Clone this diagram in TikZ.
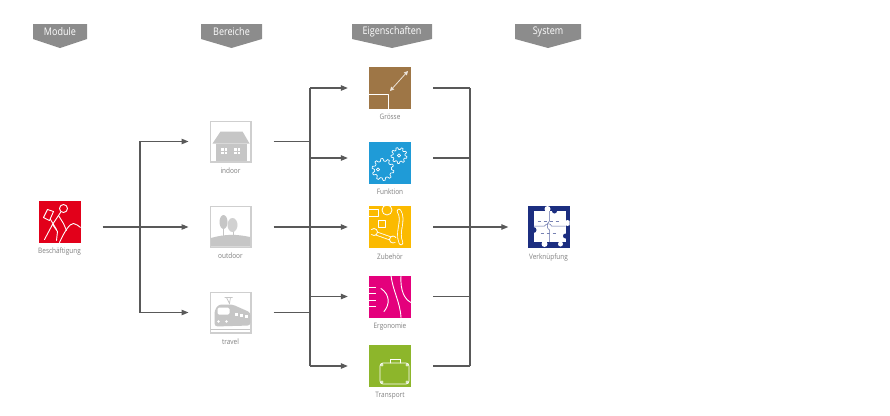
\documentclass[tikz,border=0pt]{standalone}
\usepackage{fontspec}
\setmainfont{Open Sans}[FakeStretch=0.86]
\usetikzlibrary{positioning,arrows.meta}
\definecolor{linegray}{HTML}{595959}
\definecolor{headgray}{HTML}{8C8C8C}
\definecolor{textgray}{HTML}{808080}
\definecolor{icongray}{HTML}{C6C6C6}
\definecolor{bred}{HTML}{E2001A}
\definecolor{bbrown}{HTML}{9E7646}
\definecolor{bblue}{HTML}{1F9BD7}
\definecolor{byellow}{HTML}{FBBA00}
\definecolor{bmagenta}{HTML}{E4007C}
\definecolor{bgreen}{HTML}{8DB62B}
\definecolor{bnavy}{HTML}{1C2E80}

\begin{document}
\begin{tikzpicture}[x=1pt,y=-1pt,node distance=4pt,
        icon node/.style={rectangle,minimum size=42pt,inner sep=0pt},
        grey node/.style={rectangle,fill=white,draw=icongray!85,line width=1.4pt,minimum size=40.6pt,inner sep=0pt},
        label node/.style={text=textgray,font=\fontsize{7.5}{8}\selectfont,inner sep=1pt},
        head node/.style={text=white,font=\fontsize{10.5}{12}\selectfont,inner sep=0pt},
        glyph/.style={draw=white,line width=0.9pt,line cap=round,line join=round},
        link/.style={draw=linegray,line width=1.1pt},
        arrow/.style={link,-{Triangle[length=7pt,width=5.5pt]}}]

    \useasboundingbox (0,0) rectangle (890,415);

    % column heads
    \foreach \x/\w/\t/\n in {60/27/Module/hmod,231.5/30.5/Bereiche/hber,
            392/40/Eigenschaften/heig,548/33/System/hsys}{
        \fill[headgray] (\x-\w,24) -- (\x+\w,24) -- (\x+\w,39) -- (\x,48) -- (\x-\w,39) -- cycle;
        \node[head node] (\n) at (\x,31.5) {\t};
    }

    % icons
    \node[icon node,fill=bred] (besch) at (59.5,221.5) {};
    \node[grey node] (indoor) at (230.5,141.5) {};
    \node[grey node] (outdoor) at (230.5,227) {};
    \node[grey node] (travel) at (230.5,312.5) {};
    \node[icon node,fill=bbrown] (groesse) at (390,88) {};
    \node[icon node,fill=bblue] (funktion) at (390,162.5) {};
    \node[icon node,fill=byellow] (zubehoer) at (390,227) {};
    \node[icon node,fill=bmagenta] (ergonomie) at (390,296.5) {};
    \node[icon node,fill=bgreen] (transport) at (390,366) {};
    \node[icon node,fill=bnavy] (verkn) at (548.5,227) {};

    % labels
    \node[label node,below=of besch] (besch-l) {Beschäftigung};
    \node[label node,below=of indoor] (indoor-l) {indoor};
    \node[label node,below=of outdoor] (outdoor-l) {outdoor};
    \node[label node,below=of travel] (travel-l) {travel};
    \node[label node,below=of groesse] (groesse-l) {Grösse};
    \node[label node,below=of funktion] (funktion-l) {Funktion};
    \node[label node,below=of zubehoer] (zubehoer-l) {Zubehör};
    \node[label node,below=of ergonomie] (ergonomie-l) {Ergonomie};
    \node[label node,below=of transport] (transport-l) {Transport};
    \node[label node,below=of verkn] (verkn-l) {Verknüpfung};

    % Beschaeftigung
    \begin{scope}[shift={(besch.center)}]
        \clip (-21,-21) rectangle (21,21);
        \draw[glyph] (4,-13) circle (4);
        \draw[glyph] (1,-9) -- (-7,3) -- (-15,18);
        \draw[glyph] (-7,3) -- (-2,10) -- (-3,19);
        \draw[glyph] (-1,-6) -- (4,2) -- (7,9);
        \draw[glyph] (-12,-12) -- (-6,-10) -- (-10,-1) -- (-16,-4) -- cycle;
        \draw[glyph] (-9,-2) -- (-3,8);
        \draw[glyph] (0,21) .. controls (5,10) and (10,2) .. (14,2) .. controls (17,2) and (19,5) .. (21,6);
    \end{scope}

    % indoor
    \begin{scope}[shift={(indoor.center)},icongray]
        \fill (-18,2) -- (-10,-10) -- (12,-10) -- (19,2) -- cycle;
        \fill (-15,2) rectangle (16,19.6);
        \foreach \wx in {-9.5,3.5}{
            \fill[white] (\wx,6.5) rectangle (\wx+6,12.5);
            \draw[icongray,line width=0.8pt] (\wx+3,6.5) -- (\wx+3,12.5) (\wx,9.5) -- (\wx+6,9.5);
        }
    \end{scope}

    % outdoor
    \begin{scope}[shift={(outdoor.center)},icongray]
        \fill (-19.6,11) .. controls (-5,7) and (5,7) .. (19.6,10) -- (19.6,19.6) -- (-19.6,19.6) -- cycle;
        \draw[line width=0.8pt] (-7,0) -- (-7,10) (3,2) -- (3,10);
        \fill (-7,-5) ellipse (4 and 7);
        \fill[icongray!80] (2,-2) ellipse (5 and 7);
    \end{scope}

    % travel
    \begin{scope}[shift={(travel.center)},icongray]
        \draw[line width=0.7pt] (-6,-15) -- (2,-15) (-4,-15) -- (-1,-9) -- (0,-15);
        \fill[rounded corners=3pt] (-16,14) -- (-16,-2) -- (-12,-8) -- (2,-8) -- (20,0) -- (20,13) -- cycle;
        \fill[white,rounded corners=1.5pt] (-13,-5) rectangle (-1,2);
        \foreach \sx in {4,9,14}
            \fill[white] (\sx,-1+\sx/4) rectangle (\sx+3,3+\sx/5);
        \fill[white] (-12,9) circle (1.3) (-4,9) circle (1.3);
        \draw[line width=0.8pt] (-19.6,17) -- (19.6,17);
    \end{scope}

    % Groesse
    \begin{scope}[shift={(groesse.center)}]
        \draw[glyph,line cap=butt,line width=0.8pt] (-21,6) -- (-2,6) -- (-2,21);
        \draw[draw=bbrown!20,line width=0.8pt,{Triangle[length=4pt,width=4pt]}-{Triangle[length=4pt,width=4pt]}]
            (0,3) -- (18,-17);
    \end{scope}

    % Funktion
    \begin{scope}[shift={(funktion.center)}]
        \clip (-21,-21) rectangle (21,21);
        \begin{scope}[shift={(-7,7)}]
            \draw[glyph,fill=bblue,line width=0.7pt] (0:8.5) \foreach \a in {0,36,...,324} {
                -- (\a:8.5) -- (\a+7:11) -- (\a+17:11) -- (\a+24:8.5) } -- cycle;
            \draw[glyph,line width=0.7pt] (-5,0) circle (1.6);
        \end{scope}
        \begin{scope}[shift={(9,-7)}]
            \draw[glyph,fill=bblue,line width=0.7pt] (0:6) \foreach \a in {0,40,...,320} {
                -- (\a:6) -- (\a+8:8) -- (\a+20:8) -- (\a+28:6) } -- cycle;
            \draw[glyph,line width=0.7pt] (0,0) circle (1.6);
        \end{scope}
    \end{scope}

    % Zubehoer
    \begin{scope}[shift={(zubehoer.center)}]
        \clip (-21,-21) rectangle (21,21);
        \draw[glyph,line width=0.8pt] (-23,-18) rectangle (-12,-11);
        \draw[glyph,line width=0.8pt] (-3,-17) circle (5);
        \draw[glyph,line width=0.8pt] (-12,-7) rectangle (-5,0);
        \draw[white,line width=4pt,line cap=round] (-15,6) -- (2,12);
        \draw[byellow,line width=2.4pt,line cap=round] (-15,6) -- (2,12);
        \draw[glyph,line width=0.8pt,fill=byellow] (-16,5) circle (3.5) (3,12.5) circle (3.5);
        \fill[byellow] (-20,3) rectangle (-16,7) (3,11) rectangle (7,15);
        \draw[white,line width=4.5pt,line cap=round] (9,-16) .. controls (15,-6) and (6,4) .. (11,16);
        \draw[byellow,line width=2.9pt,line cap=round] (9,-16) .. controls (15,-6) and (6,4) .. (11,16);
    \end{scope}

    % Ergonomie
    \begin{scope}[shift={(ergonomie.center)}]
        \clip (-21,-21) rectangle (21,21);
        \foreach \ty in {-9,-3,4,10}
            \draw[glyph,line cap=butt] (-21,\ty) -- (-14,\ty);
        \draw[glyph] (-9,-8) .. controls (0,-2) and (0,8) .. (-6,15);
        \draw[glyph] (1,-21) .. controls (3,-5) and (10,5) .. (11,21);
        \draw[glyph] (11,-21) .. controls (10,-5) and (15,3) .. (21,6);
    \end{scope}

    % Transport
    \begin{scope}[shift={(transport.center)}]
        \draw[glyph,line width=0.8pt,rounded corners=3pt] (-10,-3) rectangle (19,18);
        \draw[glyph,line width=0.8pt] (0,-3) -- (0,-7) -- (10,-7) -- (10,-3);
        \foreach \cx/\cy in {-8/-1,17/-1,-8/16,17/16}
            \draw[glyph,line width=0.6pt] (\cx,\cy) circle (1.2);
    \end{scope}

    % Verknuepfung
    \begin{scope}[shift={(verkn.center)}]
        \clip (-21,-21) rectangle (21,21);
        \fill[white] (-15,-16) rectangle (17,15);
        \fill[white] (-1,-18) circle (3) (19,-4) circle (3) (-4,17) circle (3) (12,17) circle (2.5);
        \fill[bnavy] (-15,3) circle (3) (17,9) circle (2.5) (6,-16) circle (2.5);
        \draw[bnavy!70,line width=0.5pt] (-15,-1) -- (-4,-1) .. controls (-2,-4) and (2,-4) .. (3,-1) -- (17,-1);
        \draw[bnavy!70,line width=0.5pt] (1,-16) -- (1,-6) .. controls (-2,-4) and (-2,2) .. (1,3) -- (1,15);
        \draw[bnavy!60,line width=0.4pt,dashed] (-11,-6) -- (12,-6) (-8,6) -- (10,6);
    \end{scope}

    % connectors
    \coordinate (split1) at (140,227);
    \coordinate (join2) at (310,227);
    \coordinate (join3) at (470,227);
    \coordinate (funktion-in) at ([yshift=4.5pt]funktion.west);
    \coordinate (funktion-out) at ([yshift=4.5pt]funktion.east);

    \draw[arrow,shorten <=22pt,shorten >=21pt] (besch.east |- outdoor) -- (outdoor);
    \draw[arrow,shorten >=21pt] (split1) |- (indoor);
    \draw[arrow,shorten >=21pt] (split1) |- (travel);

    \foreach \n in {indoor,travel}
        \draw[link,shorten <=22pt] (\n) -- (\n -| join2);
    \draw[link] (join2 |- groesse) -- (join2 |- transport);
    \draw[arrow,shorten <=22pt,shorten >=21pt] (outdoor) -- (zubehoer);
    \foreach \n in {groesse,funktion-in,ergonomie,transport}
        \draw[arrow,shorten >=21pt] (join2 |- \n) -- (\n);

    \foreach \n in {groesse,ergonomie,transport}
        \draw[link,shorten <=22pt] (\n) -- (\n -| join3);
    \draw[link,shorten <=22pt] (funktion-out) -- (funktion-out -| join3);
    \draw[link] (join3 |- groesse) -- (join3 |- transport);
    \draw[arrow,shorten <=22pt,shorten >=19pt] (zubehoer) -- (verkn);
\end{tikzpicture}
\end{document}
